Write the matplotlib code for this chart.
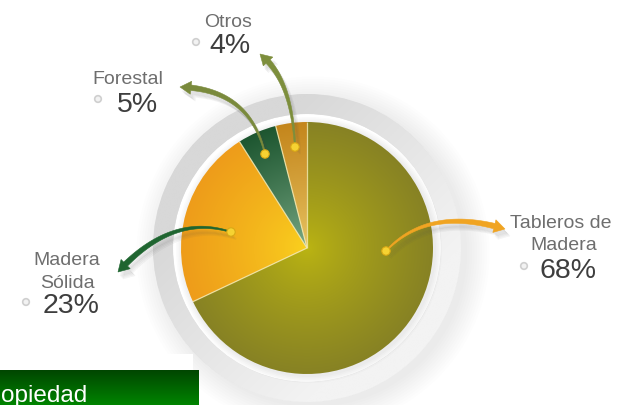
import numpy as np
import matplotlib
matplotlib.use("Agg")
import matplotlib.pyplot as plt
from matplotlib.patches import Wedge, Circle, Polygon, Rectangle
from matplotlib.colors import to_rgb

plt.rcParams['font.family'] = ['Liberation Sans', 'DejaVu Sans']

# datos
categorias = ['Tableros de\nMadera', 'Madera\nSólida', 'Forestal', 'Otros']
porcentajes = [68, 23, 5, 4]

# colores de cada sector: base, centro, borde
color_base = ['#9c981c', '#f2a81e', '#2f6b3c', '#d39a22']
color_centro = ['#bcb512', '#fad21e', '#7fae8a', '#eac868']
color_borde = ['#878224', '#ee9c1a', '#1d5630', '#c4861c']
color_flecha = ['#f0a422', '#1f6530', '#7a8a3c', '#7d8e3c']

W, H = 628, 406
CX, CY, R = 307, 249, 126.0   # centro y radio del pastel en pixeles


def px(x, y):
    return ((x - CX) / R, (CY - y) / R)


fig = plt.figure(figsize=(W / 100, H / 100), dpi=100)
ax = fig.add_axes([0, 0, 1, 1])

wedges, _ = ax.pie(porcentajes, startangle=90, counterclock=False,
                   colors=color_base, radius=1.0,
                   wedgeprops=dict(edgecolor='none', linewidth=0))

# sombra suave alrededor del anillo
for k in range(10):
    ax.add_patch(Circle(px(CX + 6, CY + 5), (154 + k * 2.5) / R,
                        facecolor='#909090', edgecolor='none',
                        alpha=0.014, zorder=0.2))
ax.add_patch(Circle((0, 0), 154 / R, facecolor='white', edgecolor='none', zorder=0.3))

# anillo gris con degradado
n = 500
g = np.linspace(-1.3, 1.3, n)
gx, gy = np.meshgrid(g, g)
t = np.clip((gx - gy) / 2.4 + 0.5, 0, 1)
c0, c1 = np.array(to_rgb('#d8d8d8')), np.array(to_rgb('#f3f3f3'))
img = c0 + (c1 - c0) * t[..., None]
ring = Wedge((0, 0), 154 / R, 0, 360, width=20 / R, facecolor='#e2e2e2',
             edgecolor='none', zorder=0.5)
ax.add_patch(ring)
im = ax.imshow(img, extent=(-1.3, 1.3, -1.3, 1.3), origin='lower',
               interpolation='bilinear', zorder=0.6)
im.set_clip_path(ring)

# leve sombra del pastel
for k in range(5):
    ax.add_patch(Circle(px(CX + 2, CY + 2), (127 + k * 1.5) / R,
                        facecolor='#808080', edgecolor='none',
                        alpha=0.03, zorder=0.9))

# degradado radial dentro de cada sector
g = np.linspace(-1, 1, 500)
gx, gy = np.meshgrid(g, g)
rr = np.clip(np.hypot(gx, gy), 0, 1) ** 0.8
for w, ci, co in zip(wedges, color_centro, color_borde):
    a, b = np.array(to_rgb(ci)), np.array(to_rgb(co))
    im = ax.imshow(a + (b - a) * rr[..., None], extent=(-1, 1, -1, 1),
                   origin='lower', interpolation='bilinear', zorder=1.5)
    im.set_clip_path(w)
    w.set_facecolor('none')
    w.set_zorder(2)

# lineas claras entre sectores
for w in wedges:
    a = np.deg2rad(w.theta1)
    ax.plot([0, np.cos(a)], [0, np.sin(a)], color='#f3e7ad', lw=0.9,
            alpha=0.85, zorder=2.5, solid_capstyle='butt')


def bezier(p0, c, p2, t):
    t = t[:, None]
    return (1 - t) ** 2 * p0 + 2 * (1 - t) * t * c + t ** 2 * p2


def flecha(p0, c, p2, color, w0=1.2, w1=5.5, hw=13, hl=11, dx=0, dy=0, alpha=1.0, z=4):
    p0, c, p2 = (np.array(p, float) for p in (p0, c, p2))
    tt = np.linspace(0, 1, 300)
    pts = bezier(p0, c, p2, tt)
    seg = np.hypot(*np.diff(pts, axis=0).T)
    s = np.concatenate([[0], np.cumsum(seg)])
    th = np.interp(s[-1] - hl, s, tt)
    ts = np.linspace(0, th, 80)
    sp = bezier(p0, c, p2, ts)
    d = 2 * (1 - ts[:, None]) * (c - p0) + 2 * ts[:, None] * (p2 - c)
    d = d / np.hypot(*d.T)[:, None]
    nrm = np.stack([-d[:, 1], d[:, 0]], axis=1)
    wid = (w0 + (w1 - w0) * (ts / th))[:, None] / 2
    left, right = sp + nrm * wid, sp - nrm * wid
    base, nb = sp[-1], nrm[-1]
    head = [base + nb * hw / 2, p2, base - nb * hw / 2]
    poly = np.vstack([left, head, right[::-1]]) + [dx, dy]
    ax.add_patch(Polygon([px(x, y) for x, y in poly], closed=True,
                         facecolor=color, edgecolor=color, linewidth=0.4,
                         alpha=alpha, zorder=z))


# puntos dentro de los sectores y flechas hacia las etiquetas
puntos = [(386, 252), (231, 233), (265, 155), (295, 148)]
control = [(428, 207), (172, 214), (250, 90), (292, 80)]
puntas = [(505, 230), (118, 273), (180, 88), (260, 55)]

for p0, c, p2, col in zip(puntos, control, puntas, color_flecha):
    for k in range(4):
        flecha(p0, c, p2, '#555555', dx=2 + k, dy=4 + k, alpha=0.045, z=3)
    flecha(p0, c, p2, col)
    ax.add_patch(Circle(px(*p0), 4.2 / R, facecolor='#f6d232',
                        edgecolor='#d9a915', linewidth=0.8, zorder=5))

# etiquetas
nombre_pos = [[(561, 228), (564, 250)], [(67, 265), (67, 288)], [(128, 84)], [(228, 27)]]
pct_pos = [(568, 278), (71, 313), (137, 112), (230, 53)]
marca_pos = [(524, 267), (26, 303), (98, 100), (196, 43)]

for cat, val, npos, ppos, mpos in zip(categorias, porcentajes, nombre_pos, pct_pos, marca_pos):
    for linea, (x, y) in zip(cat.split('\n'), npos):
        ax.text(*px(x, y), linea, ha='center', va='baseline', fontsize=14,
                color='#6e6e6e', zorder=6)
    ax.text(*px(*ppos), f'{val}%', ha='center', va='baseline', fontsize=20.5,
            color='#3e3e3e', zorder=6)
    ax.add_patch(Circle(px(*mpos), 3.3 / R, facecolor='#f2f2f2',
                        edgecolor='#cfcfcf', linewidth=1.2, zorder=6))

# recuadro verde inferior
ax.add_patch(Rectangle(px(0, 371), 193 / R, 16 / R, facecolor='white',
                       edgecolor='none', zorder=7))
gv = np.linspace(0, 1, 100)[:, None]
v0, v1 = np.array(to_rgb('#008400')), np.array(to_rgb('#004600'))
bar = v0 + (v1 - v0) * gv[..., None]
x0, y0 = px(0, 406)
x1, y1 = px(199, 371)
ax.imshow(np.repeat(bar, 2, axis=1), extent=(x0, x1, y0, y1), origin='lower',
          aspect='auto', interpolation='bilinear', zorder=8)
ax.text(*px(1, 402), 'opiedad', ha='left', va='baseline', fontsize=17.5,
        color='white', zorder=9)

ax.set_xlim(-CX / R, (W - CX) / R)
ax.set_ylim(-(H - CY) / R, CY / R)
ax.set_aspect('auto')
ax.axis('off')

fig.savefig('out.png', dpi=100, facecolor='white')
